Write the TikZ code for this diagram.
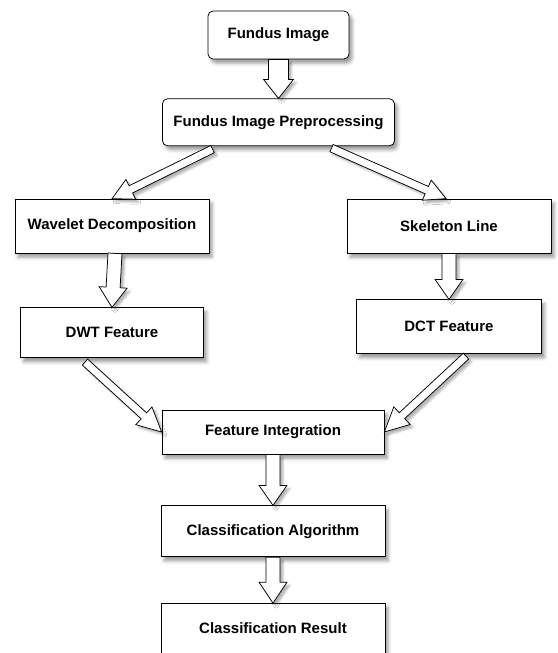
\documentclass[tikz,border=0pt]{standalone}
\usepackage{fontspec}
\setmainfont{Liberation Sans}
\usetikzlibrary{calc, positioning, shadows.blur}

% hollow block arrow: from, to, half shaft, half head, head length
\newcommand{\blockarrow}[5]{%
    \coordinate (ba-s) at #1;
    \coordinate (ba-t) at #2;
    \coordinate (ba-n) at ($(ba-t)!#5!(ba-s)$);
    \draw[block arrow]
        ($(ba-s)!#3!90:(ba-t)$) -- ($(ba-n)!#3!90:(ba-t)$)
        -- ($(ba-n)!#4!90:(ba-t)$) -- (ba-t)
        -- ($(ba-n)!#4!-90:(ba-t)$) -- ($(ba-n)!#3!-90:(ba-t)$)
        -- ($(ba-s)!#3!-90:(ba-t)$) -- cycle;
}

\begin{document}
\begin{tikzpicture}[
            x = 1pt, y = -1pt,
            font = \bfseries\fontsize{15}{18}\selectfont,
            line width = 0.75pt
        ]
        \tikzstyle{box}=[
            draw = black,
            fill = white,
            blur shadow = {shadow xshift = 3pt, shadow yshift = -4pt,
                           shadow blur radius = 3.5pt, shadow opacity = 40}
        ]
        \tikzstyle{rbox}=[box, rounded corners = 5pt]
        \tikzstyle{block arrow}=[
            draw = black,
            fill = white,
            line join = miter,
            blur shadow = {shadow xshift = 3pt, shadow yshift = -3pt,
                           shadow blur radius = 2pt, shadow opacity = 30}
        ]
        \useasboundingbox (0,0) rectangle (557,653);

        \node[rbox, minimum width = 141pt, minimum height = 48pt] (fundus) at (278.5,35) {Fundus Image};
        \node[rbox, minimum width = 232pt, minimum height = 47pt] (prep) [below = 39pt of fundus] {Fundus Image Preprocessing};
        \node[box, minimum width = 194pt, minimum height = 54pt] (wave) at (112,226) {Wavelet Decomposition};
        \node[box, minimum width = 204pt, minimum height = 54pt] (skel) at (449,226) {Skeleton Line};
        \node[box, minimum width = 183pt, minimum height = 50pt] (dwt) [below = 54pt of wave] {DWT Feature};
        \node[box, minimum width = 185pt, minimum height = 54pt] (dct) [below = 46pt of skel] {DCT Feature};
        \node[box, minimum width = 222pt, minimum height = 44pt] (fi) at (273,432) {Feature Integration};
        \node[box, minimum width = 224pt, minimum height = 51pt] (ca) [below = 51pt of fi] {Classification Algorithm};
        \node[box, minimum width = 224pt, minimum height = 50pt] (cr) [below = 46pt of ca] {Classification Result};

        \blockarrow{(fundus.south)}{(prep.north)}{10pt}{15pt}{19pt}
        \blockarrow{($(prep.south)+(-66,3)$)}{(wave.north)}{4pt}{11pt}{21pt}
        \blockarrow{($(prep.south)+(53,2)$)}{($(skel.north)+(-3,0)$)}{4pt}{11pt}{21pt}
        \blockarrow{($(wave.south)+(3,0)$)}{(dwt.north)}{7pt}{14pt}{20pt}
        \blockarrow{(skel.south)}{(dct.north)}{7pt}{14pt}{20pt}
        \blockarrow{($(dwt.south)+(-27,4)$)}{(fi.west)}{4pt}{12pt}{24pt}
        \blockarrow{($(dct.south)+(17,2)$)}{(fi.east)}{4pt}{12pt}{24pt}
        \blockarrow{(fi.south)}{(ca.north)}{7pt}{14pt}{20pt}
        \blockarrow{(ca.south)}{(cr.north)}{7pt}{14pt}{21pt}
\end{tikzpicture}
\end{document}
